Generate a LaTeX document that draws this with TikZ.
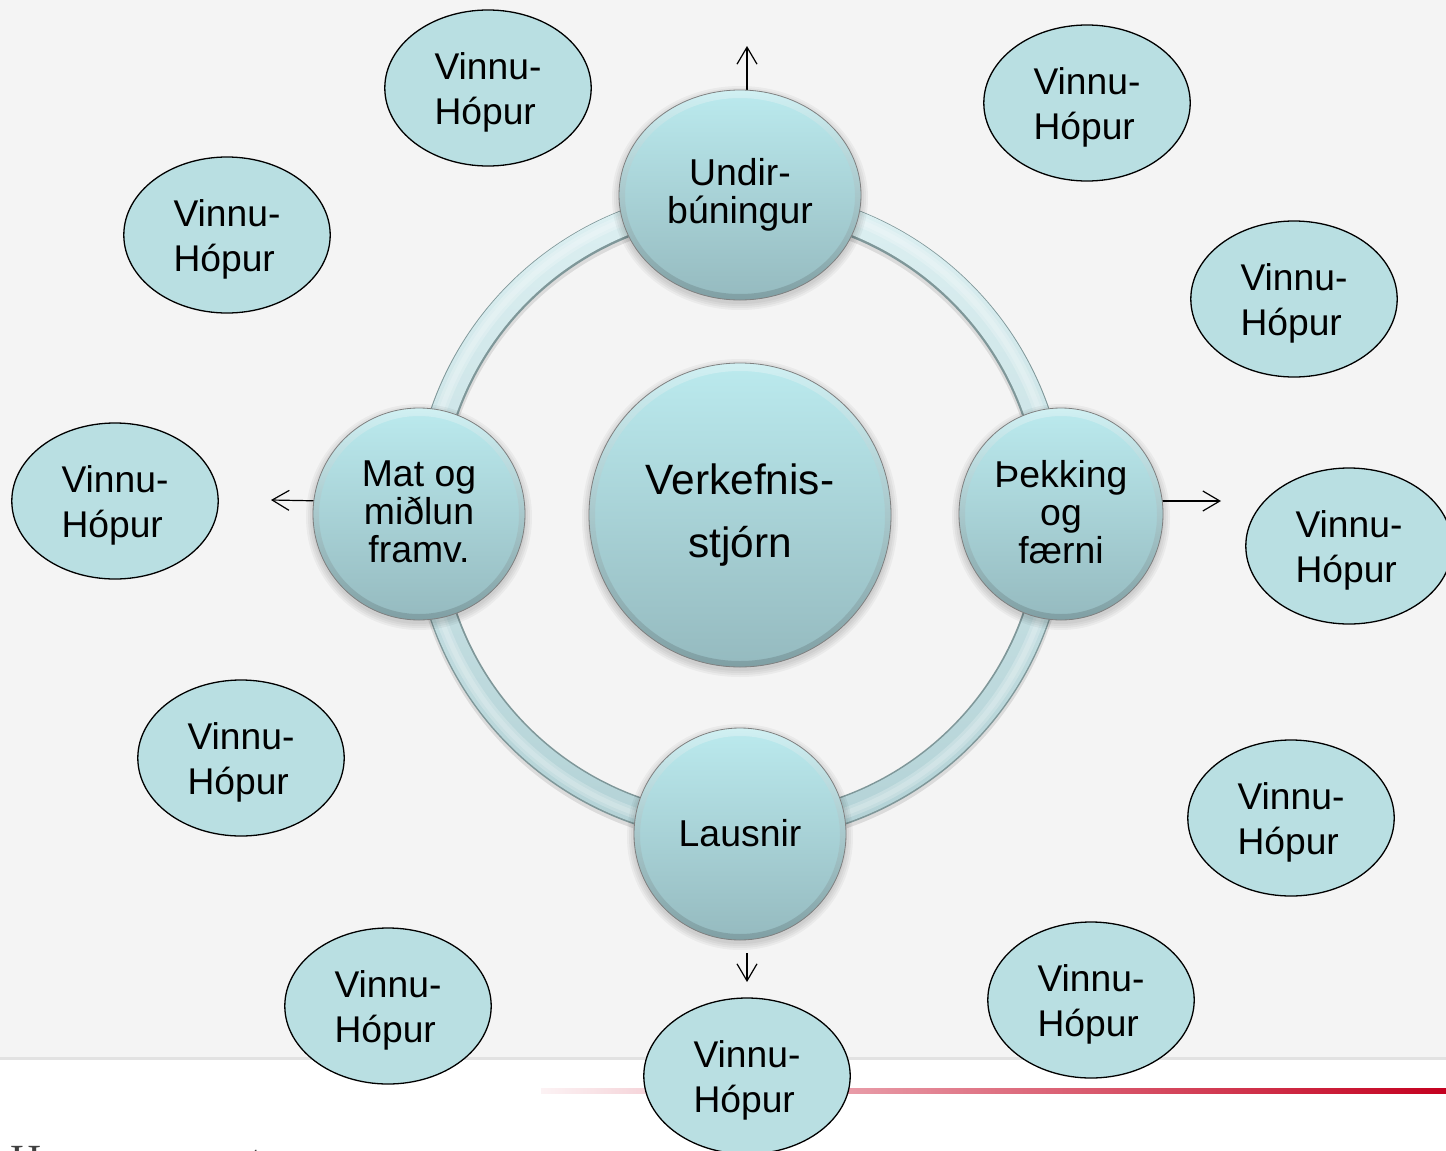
\documentclass[tikz,border=0pt]{standalone}
\usepackage{fontspec}
\setmainfont{Liberation Sans}
\newfontfamily\serifcut{Liberation Serif}
\usetikzlibrary{arrows.meta,shapes.geometric}
\definecolor{bgpanel}{HTML}{F4F4F4}
\definecolor{panelline}{HTML}{E2E2E2}
\definecolor{groupfill}{HTML}{B9DFE2}
\definecolor{balltop}{HTML}{BBEAEE}
\definecolor{ballbot}{HTML}{95BABF}
\definecolor{barred}{HTML}{C4001F}
\definecolor{ringedge}{HTML}{7F9799}
\definecolor{ringtop}{HTML}{DDF0F2}
\definecolor{ringmid}{HTML}{BBD8DB}
\definecolor{ringbot}{HTML}{B3D2D6}
\tikzset{
  x=0.5pt,y=-0.5pt,
  groupnode/.style={ellipse,draw=black,line width=0.65pt,fill=groupfill,minimum width=103.2pt,minimum height=78pt,inner sep=0pt,
    align=left,font=\fontsize{18.6}{22.5}\selectfont},
  ballnode/.style={ellipse,inner sep=0pt,outer sep=0pt,align=center,top color=balltop,bottom color=ballbot,
    font=\fontsize{18.7}{19}\selectfont},
  flowarrow/.style={draw=black,line width=0.6pt,-{Straight Barb[length=8.5pt,width=10pt]}},
}
% ball: name, x, y, rx, ry, text, extra node options
\newcommand{\ballat}[7]{%
  \foreach \s in {7,5,3,1} {
    \fill[black,opacity=0.04] (#2,#3+3) ellipse [x radius=#4+\s,y radius=#5+\s];
  }
  \node[ballnode,minimum width=#4 pt,minimum height=#5 pt,#7] (#1) at (#2,#3) {#6};
  \shade[even odd rule,top color=white!45!balltop,bottom color=black!20!ballbot,opacity=0.7]
    (#2,#3) ellipse [x radius=#4,y radius=#5] (#2,#3+1) ellipse [x radius=#4-6,y radius=#5-7];
  \draw[black!50,line width=0.4pt] (#2,#3) ellipse [x radius=#4,y radius=#5];
}
\begin{document}
\begin{tikzpicture}
\useasboundingbox (0,0) rectangle (1446,1151);
\clip (0,0) rectangle (1446,1151);
\fill[white] (0,0) rectangle (1446,1151);
\fill[bgpanel] (0,0) rectangle (1446,1058);
\fill[panelline] (0,1057) rectangle (1446,1060);
\shade[left color=white!95!barred,right color=barred,middle color=white!45!barred] (541,1088) rectangle (1446,1093);
\node[anchor=base west,inner sep=0pt,font=\serifcut\fontsize{21.5}{21.5}\selectfont,text=black!75] (cuta) at (10,1174) {H};
\node[anchor=base west,inner sep=0pt,font=\serifcut\fontsize{21.5}{21.5}\selectfont,text=black!75] (cutb) at (250,1174) {t};
% ring
\fill[even odd rule,black,opacity=0.10] (740,518) circle [radius=328] (740,518) circle [radius=298];
\fill[even odd rule,ringedge] (740,515) circle [radius=327] (740,515) circle [radius=299];
\shade[even odd rule,top color=ringtop,middle color=ringmid,bottom color=ringbot] (740,514.5) circle [radius=325.8] (740,514.5) circle [radius=301];
\fill[even odd rule,white,opacity=0.22] (740,514.5) circle [radius=322] (740,514.5) circle [radius=311];
\fill[even odd rule,white,opacity=0.18] (740,514.5) circle [radius=319] (740,514.5) circle [radius=314];
% free ends
\coordinate (upEnd) at (747,46);
\coordinate (rightEnd) at (1221,501);
\coordinate (leftEnd) at (271,500);
\coordinate (downEnd) at (747,982);
\coordinate (upStart) at (747,100);
\coordinate (rightStart) at (1150,501);
\coordinate (leftStart) at (325,501);
\coordinate (downStart) at (747,953);
\draw[flowarrow] (upStart) -- (upEnd);
\draw[flowarrow] (rightStart) -- (rightEnd);
\draw[flowarrow] (leftStart) -- (leftEnd);
\draw[flowarrow] (downStart) -- (downEnd);
% balls
\ballat{centre}{740}{515}{151}{152}{Verkefnis-\\[10.5pt]stjórn\rule[-3pt]{0pt}{1pt}}{font=\fontsize{21.2}{21.2}\selectfont}
\ballat{undir}{740}{195}{121}{105}{Undir-\\búningur}{}
\ballat{thekk}{1061}{514}{102}{106}{Þekking\\og\\færni\rule[-2pt]{0pt}{1pt}}{}
\ballat{mat}{419}{514}{106}{106}{Mat og\\miðlun\\framv.\rule[-2pt]{0pt}{1pt}}{}
\ballat{lausn}{740}{834}{106}{106}{Lausnir\rule[-1pt]{0pt}{1pt}}{}
% groups
\foreach \n/\x/\y in {g1/488/88,g2/227/235,g3/1087/103,g4/1294/299,g5/115/501,g6/1349/546,g7/241/758,g8/1291/818,g9/388/1006,g10/1091/1000,g11/747/1076}
  \node[groupnode] (\n) at (\x,\y) {\rule{0pt}{17.5pt}Vinnu-\\Hópur};
\end{tikzpicture}
\end{document}
